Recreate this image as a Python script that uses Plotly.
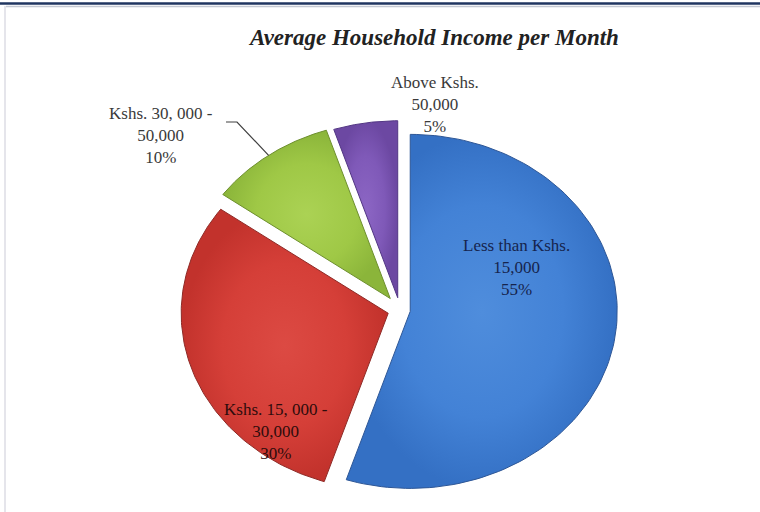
import numpy as np
import plotly.graph_objects as go

# Income bands and their share of households (%)
categories = ["Less than Kshs. 15,000", "Kshs. 15, 000 - 30,000",
              "Kshs. 30, 000 - 50,000", "Above Kshs. 50,000"]
shares = [55, 30, 10, 5]
label_lines = [["Less than Kshs.", "15,000"],
               ["Kshs. 15, 000 -", "30,000"],
               ["Kshs. 30, 000 -", "50,000"],
               ["Above Kshs.", "50,000"]]

# styling
W, H = 760, 512
CX, CY = 400, 310          # pie centre in pixels
RX, RY = 207, 177          # ellipse radii in pixels (tilted pie look)
pulls = [0.05, 0.06, 0.08, 0.07]
grad = [["#4f8ddc", "#4382d6", "#3470c4"],
        ["#dc4a43", "#d53f38", "#c2322c"],
        ["#abd254", "#9fc846", "#8bb53a"],
        ["#8c66c4", "#7f59b8", "#6c48a2"]]
edge = ["#2d5696", "#8e2a26", "#6d8f2e", "#533784"]
text_col = ["#16244d", "#2e0c0c", "#3a3a3a", "#3a3a3a"]
FONT = "Liberation Serif"

# axis ranges such that one data unit equals RX px horizontally and RY px vertically
xr = [-CX / RX, (W - CX) / RX]
yr = [-(H - CY) / RY, CY / RY]


def px_to_data(px, py):
    return (px - CX) / RX, (CY - py) / RY


fig = go.Figure()

total = float(sum(shares))
start = 0.0
vertices = []
bisectors = []
for i, v in enumerate(shares):
    span = 360.0 * v / total
    a0, a1 = start, start + span
    mid = np.radians((a0 + a1) / 2)
    ox, oy = pulls[i] * np.sin(mid), pulls[i] * np.cos(mid)
    t = np.radians(np.linspace(a0, a1, 120))
    xs = np.concatenate([[ox], ox + np.sin(t), [ox]])
    ys = np.concatenate([[oy], oy + np.cos(t), [oy]])
    fig.add_trace(go.Scatter(
        x=xs, y=ys, mode="lines", fill="toself",
        line=dict(color=edge[i], width=1),
        fillgradient=dict(type="radial",
                          colorscale=[[0, grad[i][0]], [0.6, grad[i][1]], [1, grad[i][2]]]),
        hoverinfo="text", text=categories[i], name=categories[i],
        showlegend=False,
    ))
    vertices.append((ox, oy))
    bisectors.append(mid)
    start = a1

# leader line from the 30,000 - 50,000 label to its slice
gi = 2
tip = (vertices[gi][0] + np.sin(bisectors[gi]), vertices[gi][1] + np.cos(bisectors[gi]))
p0 = px_to_data(226, 122)
p1 = px_to_data(237, 122)
fig.add_trace(go.Scatter(x=[p0[0], p1[0], tip[0]], y=[p0[1], p1[1], tip[1]],
                         mode="lines", line=dict(color="#404040", width=1.2),
                         hoverinfo="skip", showlegend=False))

# slice labels (pixel positions of label centres)
label_pos = [(516, 267), (276, 431), (161, 135), (435, 104)]
for i, (lx, ly) in enumerate(label_pos):
    txt = "<br>".join(label_lines[i] + [f"{shares[i]}%"])
    fig.add_annotation(x=lx / W, y=1 - ly / H, xref="paper", yref="paper",
                       xanchor="center", yanchor="middle",
                       text=txt, showarrow=False, align="center",
                       font=dict(family=FONT, size=17, color=text_col[i]))

# title
fig.add_annotation(x=433 / W, y=1 - 37 / H, xref="paper", yref="paper",
                   xanchor="center", yanchor="middle",
                   text="<b><i>Average Household Income per Month</i></b>",
                   showarrow=False, font=dict(family=FONT, size=23, color="#222222"))

# frame lines
fig.add_shape(type="line", xref="paper", yref="paper", x0=0, x1=1,
              y0=1 - 3.5 / H, y1=1 - 3.5 / H, line=dict(color="#1f3560", width=2.5))
fig.add_shape(type="line", xref="paper", yref="paper", x0=6 / W, x1=1,
              y0=1 - 6.5 / H, y1=1 - 6.5 / H, line=dict(color="#c4c8d2", width=1.5))
fig.add_shape(type="line", xref="paper", yref="paper", x0=5 / W, x1=5 / W,
              y0=0, y1=1 - 6 / H, line=dict(color="#dcdde4", width=1.5))

fig.update_layout(
    width=W, height=H, margin=dict(l=0, r=0, t=0, b=0),
    paper_bgcolor="white", plot_bgcolor="white",
    xaxis=dict(range=xr, visible=False, fixedrange=True),
    yaxis=dict(range=yr, visible=False, fixedrange=True),
)

fig.write_html("out.html")
